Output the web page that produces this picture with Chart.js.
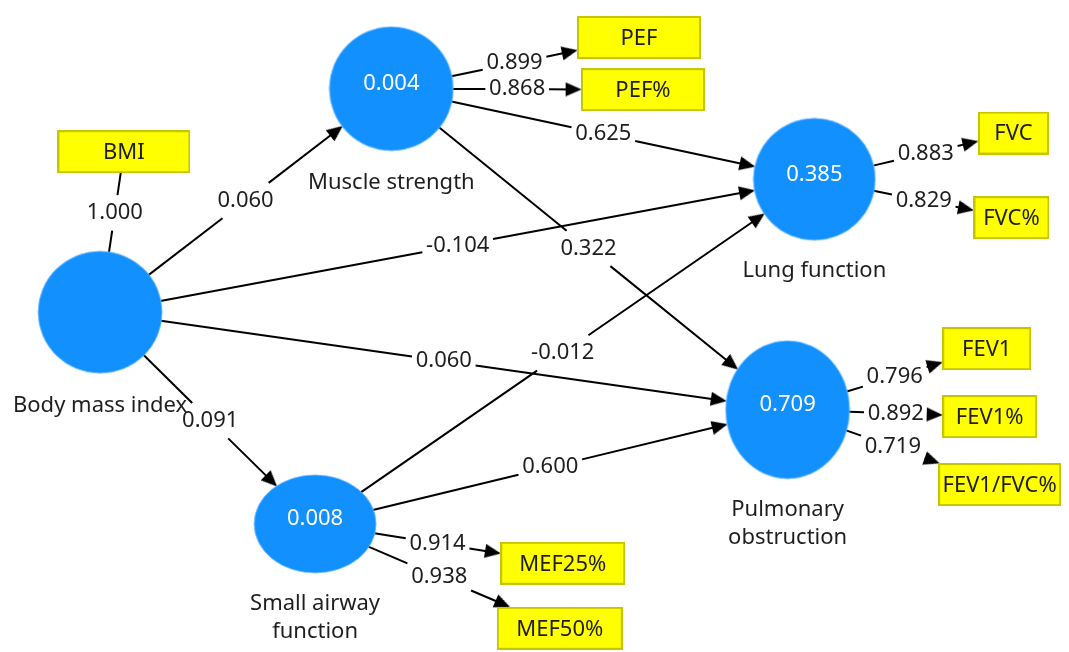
<!DOCTYPE html>
<html>
<head>
<meta charset="utf-8">
<script src="https://cdn.jsdelivr.net/npm/chart.js@4.4.0/dist/chart.umd.min.js"></script>
<style>
  html, body { margin: 0; padding: 0; background: #fff; }
</style>
</head>
<body>
<canvas id="pathCanvas" width="1069" height="652"></canvas>
<script>
// ---- data: constructs (latent variables) ----
const constructNames = ['Body mass index', 'Muscle strength', 'Lung function', 'Pulmonary obstruction', 'Small airway function'];
const constructLabelLines = [['Body mass index'], ['Muscle strength'], ['Lung function'], ['Pulmonary', 'obstruction'], ['Small airway', 'function']];
const rSquared = ['', '0.004', '0.385', '0.709', '0.008'];

// ---- data: indicators and their loadings ----
const itemNames = ['BMI', 'PEF', 'PEF%', 'FVC', 'FVC%', 'FEV1', 'FEV1%', 'FEV1/FVC%', 'MEF25%', 'MEF50%'];
const itemConstruct = [0, 1, 1, 2, 2, 3, 3, 3, 4, 4];
const loadings = ['1.000', '0.899', '0.868', '0.883', '0.829', '0.796', '0.892', '0.719', '0.914', '0.938'];

// ---- data: structural paths ----
const pathFrom = [0, 1, 0, 1, 0, 0, 4, 4];
const pathTo = [1, 2, 2, 3, 3, 4, 2, 3];
const pathCoefs = ['0.060', '0.625', '-0.104', '0.322', '0.060', '0.091', '-0.012', '0.600'];

// ---- layout of the diagram (value space = pixel space of the canvas) ----
const nodeX = [96, 390, 817, 790, 313];
const nodeY = [312, 85, 177, 411, 527];
const nodeRX = [62, 62, 61, 62, 61];
const nodeRY = [61, 62, 61, 69, 49];
const nodeLabelY = [407, 180, 270, 513, 608];
const itemX = [120, 640, 644, 1018, 1016, 991, 994, 1004, 563, 560];
const itemY = [149, 33, 86, 130, 216, 349, 418, 487, 567, 633];
const itemW = [133, 124, 124, 71, 76, 89, 95, 123, 125, 126];
const itemH = 43;

const FONT = '22px "Noto Sans", "Open Sans", sans-serif';
const TEXT_COLOR = '#1e1e1e';
const NODE_COLOR = '#1190fe';

// mesure du texte pour couper les lignes autour des valeurs
const measureCtx = document.createElement('canvas').getContext('2d');
measureCtx.font = FONT;
const textWidth = (t) => measureCtx.measureText(t).width;

// point on the border of an ellipse in direction (ux, uy)
var ellipseBorder = (i, ux, uy) => {
  let t = 1 / Math.sqrt((ux / nodeRX[i]) ** 2 + (uy / nodeRY[i]) ** 2);
  return { x: nodeX[i] + ux * t, y: nodeY[i] + uy * t };
}

// point on the border of an indicator box, coming from direction (ux, uy)
var boxBorder = (j, ux, uy) => {
  let hw = itemW[j] / 2, hh = itemH / 2;
  let t = Math.min(Math.abs(ux) > 1e-6 ? hw / Math.abs(ux) : 1e9, Math.abs(uy) > 1e-6 ? hh / Math.abs(uy) : 1e9);
  return { x: itemX[j] - ux * t, y: itemY[j] - uy * t };
}

const ARROW_LEN = 16;
const ARROW_W = 14;

let lineData = [];
let arrowData = [];
let arrowRotation = [];
let labelList = [];

// build one edge: start point, tip point, text, with or without arrow
var addEdge = (p0, p1, text, withArrow) => {
  let dx = p1.x - p0.x, dy = p1.y - p0.y;
  let len = Math.sqrt(dx * dx + dy * dy);
  let ux = dx / len, uy = dy / len;
  let mid = { x: (p0.x + p1.x) / 2, y: (p0.y + p1.y) / 2 };
  let halfW = textWidth(text) / 2 + 4;
  let halfH = 18;
  let gap = Math.min(Math.abs(ux) > 1e-6 ? halfW / Math.abs(ux) : 1e9, Math.abs(uy) > 1e-6 ? halfH / Math.abs(uy) : 1e9);
  let end = withArrow ? { x: p1.x - ux * ARROW_LEN / 2, y: p1.y - uy * ARROW_LEN / 2 } : p1;
  lineData.push({ x: p0.x, y: p0.y });
  lineData.push({ x: mid.x - ux * gap, y: mid.y - uy * gap });
  lineData.push({ x: null, y: null });
  lineData.push({ x: mid.x + ux * gap, y: mid.y + uy * gap });
  lineData.push({ x: end.x, y: end.y });
  lineData.push({ x: null, y: null });
  if (withArrow) {
    arrowData.push({ x: p1.x - ux * ARROW_LEN / 2, y: p1.y - uy * ARROW_LEN / 2 });
    arrowRotation.push(Math.atan2(ux, -uy) * 180 / Math.PI);
  }
  labelList.push({ x: mid.x, y: mid.y, text: text });
}

// structural paths
for (let k = 0; k < pathFrom.length; k++) {
  let a = pathFrom[k], b = pathTo[k];
  let dx = nodeX[b] - nodeX[a], dy = nodeY[b] - nodeY[a];
  let len = Math.sqrt(dx * dx + dy * dy);
  let ux = dx / len, uy = dy / len;
  addEdge(ellipseBorder(a, ux, uy), ellipseBorder(b, -ux, -uy), pathCoefs[k], true);
}

// outer model loadings (BMI is single item, no arrow)
for (let j = 0; j < itemNames.length; j++) {
  let a = itemConstruct[j];
  let dx = itemX[j] - nodeX[a], dy = itemY[j] - nodeY[a];
  let len = Math.sqrt(dx * dx + dy * dy);
  let ux = dx / len, uy = dy / len;
  addEdge(ellipseBorder(a, ux, uy), boxBorder(j, ux, uy), loadings[j], j != 0);
}

// point styles drawn as small canvases
var makeEllipse = (rx, ry) => {
  let c = document.createElement('canvas');
  c.width = rx * 2 + 2;
  c.height = ry * 2 + 2;
  let g = c.getContext('2d');
  g.fillStyle = NODE_COLOR;
  g.beginPath();
  g.ellipse(rx + 1, ry + 1, rx, ry, 0, 0, Math.PI * 2);
  g.fill();
  g.strokeStyle = 'rgba(120,190,255,0.8)';
  g.lineWidth = 1;
  g.stroke();
  return c;
}

var makeBox = (w, h) => {
  let c = document.createElement('canvas');
  c.width = w;
  c.height = h;
  let g = c.getContext('2d');
  g.fillStyle = '#ffff00';
  g.fillRect(0, 0, w, h);
  g.strokeStyle = '#c8c400';
  g.lineWidth = 2;
  g.strokeRect(1, 1, w - 2, h - 2);
  return c;
}

var makeArrow = () => {
  let c = document.createElement('canvas');
  c.width = ARROW_W;
  c.height = ARROW_LEN;
  let g = c.getContext('2d');
  g.fillStyle = '#000';
  g.beginPath();
  g.moveTo(ARROW_W / 2, 0);
  g.lineTo(ARROW_W, ARROW_LEN);
  g.lineTo(0, ARROW_LEN);
  g.closePath();
  g.fill();
  return c;
}

let nodeStyles = nodeX.map((x, i) => makeEllipse(nodeRX[i], nodeRY[i]));
let boxStyles = itemX.map((x, j) => makeBox(itemW[j], itemH));
let arrowStyle = makeArrow();

// all texts go through the scales
const textPlugin = {
  id: 'pathTexts',
  afterDatasetsDraw(chart) {
    let ctx = chart.ctx;
    let sx = chart.scales.x, sy = chart.scales.y;
    ctx.save();
    ctx.font = FONT;
    ctx.textAlign = 'center';
    ctx.textBaseline = 'middle';
    ctx.fillStyle = TEXT_COLOR;
    labelList.forEach(l => ctx.fillText(l.text, sx.getPixelForValue(l.x), sy.getPixelForValue(l.y)));
    itemNames.forEach((n, j) => ctx.fillText(n, sx.getPixelForValue(itemX[j]), sy.getPixelForValue(itemY[j] + 1)));
    constructLabelLines.forEach((lines, i) => {
      lines.forEach((t, k) => ctx.fillText(t, sx.getPixelForValue(nodeX[i]), sy.getPixelForValue(nodeLabelY[i] + k * 28)));
    });
    ctx.fillStyle = '#ffffff';
    rSquared.forEach((r, i) => {
      if (r != '') ctx.fillText(r, sx.getPixelForValue(nodeX[i]), sy.getPixelForValue(nodeY[i] - 5));
    });
    ctx.restore();
  }
}

new Chart(document.getElementById('pathCanvas'), {
  type: 'scatter',
  data: {
    datasets: [
      {
        label: 'Constructs',
        data: nodeX.map((x, i) => ({ x: x, y: nodeY[i] })),
        pointStyle: nodeStyles,
        order: 0,
        clip: false
      },
      {
        label: 'Indicators',
        data: itemX.map((x, j) => ({ x: x, y: itemY[j] })),
        pointStyle: boxStyles,
        order: 1,
        clip: false
      },
      {
        label: 'Arrows',
        data: arrowData,
        pointStyle: arrowStyle,
        pointRotation: arrowRotation,
        order: 2,
        clip: false
      },
      {
        label: 'Paths',
        data: lineData,
        showLine: true,
        spanGaps: false,
        borderColor: '#000',
        borderWidth: 2,
        pointRadius: 0,
        order: 3,
        clip: false
      }
    ]
  },
  options: {
    responsive: false,
    animation: false,
    events: [],
    layout: { padding: 0 },
    scales: {
      x: { type: 'linear', min: 0, max: 1069, display: false },
      y: { type: 'linear', min: 0, max: 652, reverse: true, display: false }
    },
    plugins: {
      legend: { display: false },
      tooltip: { enabled: false }
    }
  },
  plugins: [textPlugin]
});
</script>
</body>
</html>
